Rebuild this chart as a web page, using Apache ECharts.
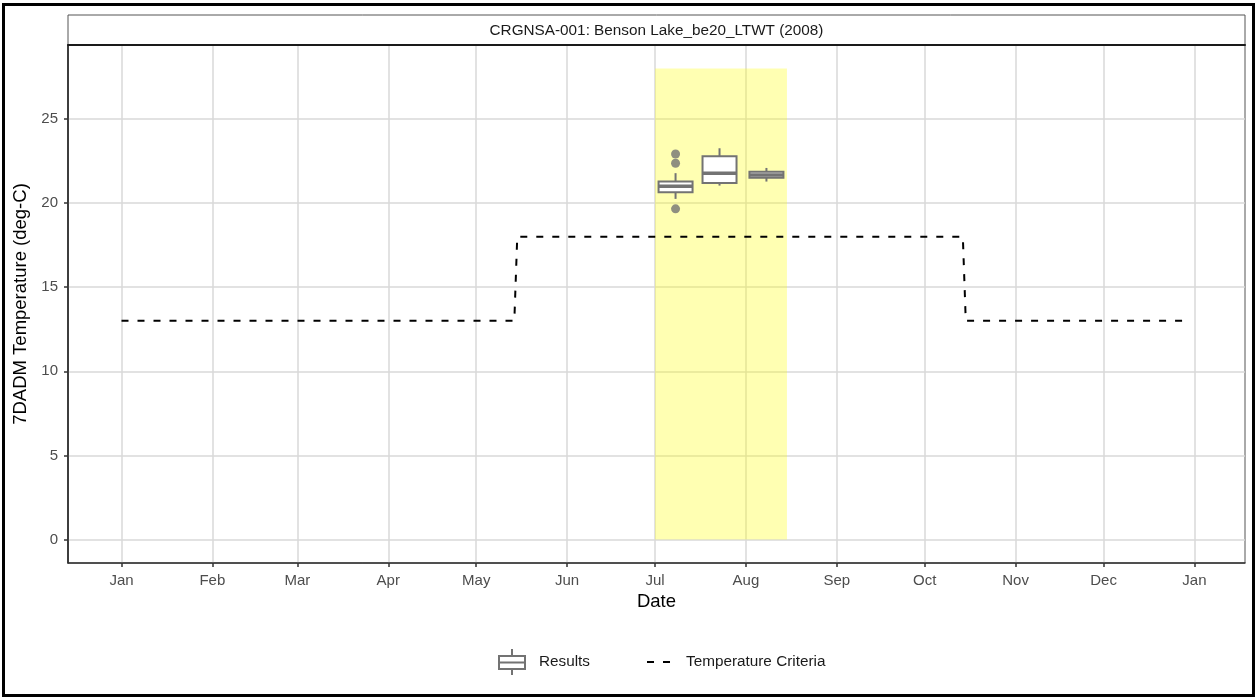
<!DOCTYPE html>
<html>
<head>
<meta charset="utf-8">
<script src="https://cdn.jsdelivr.net/npm/echarts@6/dist/echarts.min.js"></script>
<style>
html,body{margin:0;padding:0;background:#fff;}
#chart{width:1257px;height:698px;}
</style>
</head>
<body>
<div id="chart"></div>
<script>
// ---------- data ----------
const monthNames = ['Jan','Feb','Mar','Apr','May','Jun','Jul','Aug','Sep','Oct','Nov','Dec'];
const monthTicks = ['2008-01-01','2008-02-01','2008-03-01','2008-04-01','2008-05-01','2008-06-01',
  '2008-07-01','2008-08-01','2008-09-01','2008-10-01','2008-11-01','2008-12-01','2009-01-01'];
const yTicks = [0, 5, 10, 15, 20, 25];

const criteriaDates = ['2008-01-01','2008-05-14','2008-05-15','2008-10-14','2008-10-15','2008-12-29'];
const criteriaValues = [13, 13, 18, 18, 13, 13];

const boxDates  = ['2008-07-08','2008-07-23','2008-08-08'];
const boxMin    = [20.25, 21.04, 21.28];
const boxQ1     = [20.65, 21.20, 21.50];
const boxMedian = [21.00, 21.78, 21.67];
const boxQ3     = [21.28, 22.78, 21.87];
const boxMax    = [21.78, 23.26, 22.09];

const outlierDates  = ['2008-07-08','2008-07-08','2008-07-08'];
const outlierValues = [22.92, 22.37, 19.66];

const shadeDates  = ['2008-07-01','2008-08-15'];
const shadeValues = [0, 28];

const yearSpan = ['2008-01-01','2008-12-31'];
const titleText = 'CRGNSA-001: Benson Lake_be20_LTWT (2008)';
// ---------- helpers ----------
const DAY = 86400000;
const toTs = s => { const [y,m,d] = s.split('-').map(Number); return Date.UTC(y, m-1, d); };
const ORIGIN = toTs('2008-01-01');
const toDay = s => Math.round((toTs(s) - ORIGIN) / DAY);
const xStart = toDay(yearSpan[0]), xEnd = toDay(yearSpan[1]);
const xPad = (xEnd - xStart) * 0.05;
const yPad = (shadeValues[1] - shadeValues[0]) * 0.05;
const tickDays = monthTicks.map(toDay);
const dayToMonth = v => monthNames[new Date(ORIGIN + Math.round(v) * DAY).getUTCMonth()];

const FONT = 'Liberation Sans, Arial, sans-serif';
const BOX_COLOR = '#737373';

const chart = echarts.init(document.getElementById('chart'), null, {renderer:'canvas'});

const boxData = boxDates.map((d,i)=>[toDay(d), boxMin[i], boxQ1[i], boxMedian[i], boxQ3[i], boxMax[i]]);

function renderBox(params, api){
  const t = api.value(0);
  const xc = api.coord([t, 0])[0];
  const py = v => api.coord([t, v])[1];
  const hw = 17;
  const yMin = py(api.value(1)), yQ1 = py(api.value(2)), yMed = py(api.value(3)), yQ3 = py(api.value(4)), yMax = py(api.value(5));
  const ls = {stroke: BOX_COLOR, lineWidth: 2};
  return {type:'group', children:[
    {type:'line', shape:{x1:xc,y1:yMax,x2:xc,y2:yQ3}, style:ls},
    {type:'line', shape:{x1:xc,y1:yQ1,x2:xc,y2:yMin}, style:ls},
    {type:'rect', shape:{x:xc-hw,y:yQ3,width:hw*2,height:yQ1-yQ3}, style:{fill:'#fff', stroke:BOX_COLOR, lineWidth:2}},
    {type:'line', shape:{x1:xc-hw,y1:yMed,x2:xc+hw,y2:yMed}, style:{stroke:BOX_COLOR, lineWidth:3.5}}
  ]};
}

const option = {
  animation:false,
  textStyle:{fontFamily:FONT},
  grid:{left:68, right:12, top:45, bottom:135, show:true, borderColor:'#555', borderWidth:1, containLabel:false},
  graphic:[
    {type:'rect', shape:{x:3.5,y:4.5,width:1250,height:691}, style:{fill:'none', stroke:'#000', lineWidth:3}, silent:true},
    {type:'rect', shape:{x:68,y:15,width:1177,height:30}, style:{fill:'#fff', stroke:'#555', lineWidth:1}, silent:true},
    {type:'text', x:656.5, y:31, style:{text:titleText, fontFamily:FONT, fontSize:15.3, fill:'#1a1a1a', align:'center', verticalAlign:'middle'}, silent:true}
  ],
  legend:{
    left:493, top:643, itemWidth:28, itemHeight:26, itemGap:55,
    textStyle:{fontSize:15.3, color:'#1a1a1a', fontFamily:FONT, padding:[0,0,0,8]},
    data:[
      {name:'Results', icon:'path://M14,0L14,7M1,7L27,7L27,20L1,20ZM1,13.5L27,13.5M14,20L14,26',
       itemStyle:{color:'#fff', borderColor:BOX_COLOR, borderWidth:2}},
      {name:'Temperature Criteria', icon:'path://M0,0L0,0M2,12L9,12L9,14L2,14ZM18,12L25,12L25,14L18,14ZM28,26L28,26',
       itemStyle:{color:'#000', borderWidth:0}}
    ]
  },
  xAxis:[{
    type:'value', min:xStart - xPad, max:xEnd + xPad,
    name:'Date', nameLocation:'middle', nameGap:28,
    nameTextStyle:{fontSize:18.5, color:'#000', fontFamily:FONT},
    axisLine:{show:true, onZero:false, lineStyle:{color:'#333', width:1.5}},
    axisTick:{show:true, length:4, customValues:tickDays, lineStyle:{color:'#333', width:1.5}},
    axisLabel:{customValues:tickDays, margin:10, fontSize:15, color:'#4d4d4d', fontFamily:FONT,
      formatter: v => dayToMonth(v)},
    splitLine:{show:true, lineStyle:{color:'#d9d9d9', width:1.5}}
  },{
    type:'value', position:'top', min:xStart - xPad, max:xEnd + xPad,
    axisLine:{show:true, onZero:false, lineStyle:{color:'#1a1a1a', width:2}},
    axisTick:{show:false}, axisLabel:{show:false}, splitLine:{show:false}
  }],
  yAxis:{
    type:'value', min:shadeValues[0] - yPad, max:shadeValues[1] + yPad,
    name:'7DADM Temperature (deg-C)', nameLocation:'middle', nameGap:33,
    nameTextStyle:{fontSize:18.5, color:'#000', fontFamily:FONT},
    axisLine:{show:true, onZero:false, lineStyle:{color:'#1a1a1a', width:1.5}},
    axisTick:{show:true, length:4, customValues:yTicks, lineStyle:{color:'#333', width:1.5}},
    axisLabel:{customValues:yTicks, margin:10, fontSize:15, color:'#4d4d4d', fontFamily:FONT},
    splitLine:{show:true, lineStyle:{color:'#d9d9d9', width:1.5}}
  },
  series:[
    {
      name:'Temperature Criteria', type:'line', xAxisIndex:0, symbol:'none',
      data: criteriaDates.map((d,i)=>[toDay(d), criteriaValues[i]]),
      lineStyle:{color:'#000', width:2, type:[7,9]},
      itemStyle:{color:'#000'},
      z:3,
      markArea:{silent:true, itemStyle:{color:'rgba(255,255,0,0.3)'},
        data:[[{xAxis:toDay(shadeDates[0]), yAxis:shadeValues[0]},{xAxis:toDay(shadeDates[1]), yAxis:shadeValues[1]}]]}
    },
    {
      name:'Results', type:'custom', xAxisIndex:0, renderItem:renderBox,
      encode:{x:0, y:[1,2,3,4,5]}, data:boxData, itemStyle:{color:BOX_COLOR}, z:4
    },
    {
      name:'Results', type:'scatter', xAxisIndex:0, symbol:'circle', symbolSize:9,
      data: outlierDates.map((d,i)=>[toDay(d), outlierValues[i]]),
      itemStyle:{color:BOX_COLOR}, z:5
    }
  ]
};
chart.setOption(option);
</script>
</body>
</html>
